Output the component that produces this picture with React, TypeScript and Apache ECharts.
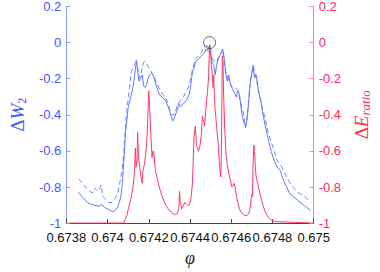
import React, { useEffect, useRef } from "react";
import * as echarts from "echarts";

const xTicks = { min: 0.6738, max: 0.675, step: 0.0002 };
const yTicks = { min: -1, max: 0.2, step: 0.2 };

const phiSolid = [
  0.673859, 0.673881, 0.673903, 0.673932, 0.673962, 0.673969, 0.673984, 0.674006, 0.674021, 0.674035,
  0.67405, 0.674057, 0.674065, 0.674072, 0.674076, 0.674082, 0.674087, 0.674094, 0.674101, 0.674109,
  0.674116, 0.674124, 0.674131, 0.674135, 0.674141, 0.674146, 0.674153, 0.67416, 0.674168, 0.674175,
  0.674182, 0.67419, 0.674197, 0.674204, 0.674212, 0.674221, 0.674235, 0.67425, 0.674265, 0.67428,
  0.674294, 0.674309, 0.674316, 0.674324, 0.674338, 0.674346, 0.674353, 0.674368, 0.674382, 0.674397,
  0.674404, 0.674412, 0.674419, 0.674426, 0.674441, 0.674456, 0.674471, 0.674478, 0.674485, 0.674493,
  0.6745, 0.674507, 0.674515, 0.674522, 0.674529, 0.674537, 0.674544, 0.674552, 0.674559, 0.674566,
  0.674574, 0.674581, 0.674588, 0.674596, 0.674603, 0.674618, 0.674625, 0.674632, 0.67464, 0.674647,
  0.674654, 0.674662, 0.674669, 0.674677, 0.674684, 0.674691, 0.674699, 0.674706, 0.674713, 0.674721,
  0.674728, 0.674735, 0.674743, 0.67475, 0.674765, 0.674779, 0.674794, 0.674809, 0.674824, 0.674838,
  0.674853, 0.674868, 0.674882, 0.674897, 0.674926, 0.674956, 0.674985,
];
const w2Solid = [
  -0.829, -0.859, -0.886, -0.9, -0.907, -0.895, -0.912, -0.925, -0.935, -0.932,
  -0.912, -0.886, -0.851, -0.78, -0.709, -0.603, -0.497, -0.426, -0.355, -0.32,
  -0.285, -0.24, -0.187, -0.143, -0.108, -0.161, -0.214, -0.196, -0.179, -0.24,
  -0.249, -0.232, -0.196, -0.179, -0.17, -0.179, -0.232, -0.285, -0.302, -0.32,
  -0.355, -0.408, -0.435, -0.417, -0.373, -0.338, -0.355, -0.338, -0.32, -0.285,
  -0.232, -0.161, -0.143, -0.108, -0.09, -0.073, -0.055, -0.037, -0.046, -0.019,
  -0.055, -0.108, -0.126, -0.179, -0.126, -0.09, -0.073, -0.055, -0.037, -0.09,
  -0.179, -0.214, -0.179, -0.232, -0.25, -0.285, -0.302, -0.267, -0.285, -0.355,
  -0.408, -0.444, -0.47, -0.426, -0.338, -0.232, -0.179, -0.126, -0.196, -0.179,
  -0.232, -0.285, -0.32, -0.373, -0.462, -0.532, -0.603, -0.656, -0.691, -0.709,
  -0.762, -0.798, -0.833, -0.851, -0.877, -0.904, -0.93,
];

const phiDashed = [
  0.673859, 0.673881, 0.673903, 0.673925, 0.67394, 0.673947, 0.673954, 0.673969, 0.673976, 0.673991,
  0.674006, 0.674021, 0.674035, 0.67405, 0.674065, 0.674072, 0.674079, 0.674087, 0.674094, 0.674101,
  0.674109, 0.674116, 0.674124, 0.674131, 0.674138, 0.674146, 0.674153, 0.67416, 0.674168, 0.674175,
  0.674182, 0.67419, 0.674197, 0.674212, 0.674235, 0.67425, 0.674265, 0.67428, 0.674294, 0.674309,
  0.674324, 0.674338, 0.674353, 0.674368, 0.674382, 0.674397, 0.674412, 0.674426, 0.674441, 0.674456,
  0.674471, 0.674485, 0.6745, 0.674515, 0.674529, 0.674544, 0.674552, 0.674559, 0.674574, 0.674588,
  0.674603, 0.674618, 0.674632, 0.674647, 0.674662, 0.674669, 0.674677, 0.674691, 0.674706, 0.674721,
  0.674735, 0.67475, 0.674765, 0.674779, 0.674794, 0.674809, 0.674824, 0.674838, 0.674853, 0.674868,
  0.674897, 0.674926, 0.674956, 0.674985,
];
const w2Dashed = [
  -0.755, -0.78, -0.815, -0.833, -0.806, -0.815, -0.824, -0.789, -0.851, -0.868,
  -0.886, -0.886, -0.868, -0.833, -0.744, -0.691, -0.603, -0.462, -0.373, -0.302,
  -0.232, -0.161, -0.134, -0.126, -0.09, -0.134, -0.196, -0.179, -0.143, -0.108,
  -0.104, -0.117, -0.134, -0.161, -0.214, -0.25, -0.285, -0.3, -0.338, -0.4,
  -0.4, -0.35, -0.32, -0.3, -0.27, -0.232, -0.15, -0.09, -0.073, -0.055,
  -0.019, -0.019, -0.073, -0.1, -0.108, -0.07, -0.055, -0.037, -0.161, -0.214,
  -0.245, -0.249, -0.267, -0.338, -0.408, -0.47, -0.408, -0.232, -0.126, -0.196,
  -0.285, -0.355, -0.426, -0.497, -0.55, -0.603, -0.656, -0.674, -0.709, -0.744,
  -0.798, -0.833, -0.851, -0.886,
];

const phiE = [
  0.67381, 0.674079, 0.674087, 0.674094, 0.674101, 0.674109, 0.674116, 0.674124, 0.674131, 0.674135,
  0.674138, 0.674143, 0.674146, 0.67415, 0.674156, 0.674162, 0.674168, 0.674172, 0.674179, 0.674185,
  0.67419, 0.674194, 0.674197, 0.6742, 0.674204, 0.674209, 0.674212, 0.674216, 0.674219, 0.674224,
  0.674232, 0.674243, 0.67425, 0.674265, 0.67428, 0.674294, 0.674309, 0.674324, 0.674338, 0.674346,
  0.674349, 0.674353, 0.67436, 0.674368, 0.674375, 0.674382, 0.67439, 0.674397, 0.674404, 0.674412,
  0.674419, 0.674424, 0.674426, 0.674431, 0.674437, 0.674441, 0.674449, 0.674456, 0.67446, 0.674465,
  0.674471, 0.674478, 0.674485, 0.67449, 0.674493, 0.674496, 0.674499, 0.674503, 0.674507, 0.674512,
  0.674515, 0.674518, 0.674522, 0.674529, 0.674537, 0.674544, 0.674549, 0.674552, 0.674555, 0.674557,
  0.67456, 0.674563, 0.674568, 0.674574, 0.674581, 0.674588, 0.674596, 0.674603, 0.67461, 0.674615,
  0.674621, 0.674625, 0.674632, 0.67464, 0.674647, 0.674662, 0.674677, 0.674684, 0.674691, 0.674699,
  0.674703, 0.674706, 0.67471, 0.674713, 0.674718, 0.674721, 0.674728, 0.674732, 0.674735, 0.67475,
  0.674765, 0.674779, 0.674794, 0.674809, 0.674824, 0.675,
];
const eRatio = [
  -1, -1, -0.974, -0.957, -0.921, -0.886, -0.851, -0.798, -0.709, -0.585,
  -0.691, -0.654, -0.497, -0.638, -0.691, -0.744, -0.78, -0.709, -0.674, -0.621,
  -0.55, -0.462, -0.355, -0.267, -0.355, -0.479, -0.55, -0.638, -0.603, -0.603,
  -0.709, -0.762, -0.798, -0.851, -0.895, -0.921, -0.939, -0.953, -0.948, -0.921,
  -0.824, -0.886, -0.921, -0.904, -0.886, -0.895, -0.904, -0.895, -0.868, -0.78,
  -0.532, -0.479, -0.462, -0.568, -0.585, -0.603, -0.568, -0.497, -0.408, -0.426,
  -0.462, -0.355, -0.267, -0.196, -0.073, -0.011, -0.037, -0.126, -0.161, -0.249,
  -0.179, -0.285, -0.373, -0.462, -0.568, -0.691, -0.744, -0.638, -0.285, -0.073,
  -0.108, -0.285, -0.462, -0.603, -0.674, -0.727, -0.762, -0.8, -0.789, -0.78,
  -0.815, -0.851, -0.886, -0.921, -0.939, -0.957, -0.957, -0.948, -0.921, -0.842,
  -0.851, -0.674, -0.568, -0.603, -0.709, -0.744, -0.78, -0.798, -0.815, -0.886,
  -0.939, -0.966, -0.983, -0.989, -0.992, -1,
];

const circleMark = [0.674495, 0];

const BLUE = "#4058ff";
const BLUE_LINE = "#6478ff";
const RED = "#ff2a55";
const RED_LINE = "#ff3a66";

const pairs = (xs: number[], ys: number[]) => xs.map((x, i) => [x, ys[i]]);

export default function App() {
  const ref = useRef<HTMLDivElement>(null);
  useEffect(() => {
    if (!ref.current) return;
    const chart = echarts.init(ref.current, undefined, { renderer: "svg" });
    const sans = "Liberation Sans";
    const serif = "Liberation Serif";
    chart.setOption({
      animation: false,
      backgroundColor: "#ffffff",
      grid: { left: 53, right: 55, top: 6, bottom: 41 },
      xAxis: {
        type: "value",
        min: xTicks.min,
        max: xTicks.max,
        interval: xTicks.step,
        axisLine: { show: true, onZero: false, lineStyle: { color: "#444", width: 1 } },
        axisTick: { show: true, inside: true, length: 4, lineStyle: { color: "#444" } },
        axisLabel: {
          color: "#111",
          fontSize: 13,
          fontFamily: sans,
          margin: 8,
          formatter: (v: number) => String(parseFloat(v.toFixed(4))),
        },
        splitLine: { show: false },
        name: "φ",
        nameLocation: "middle",
        nameGap: 24,
        nameTextStyle: { fontFamily: serif, fontStyle: "italic", fontSize: 18, color: "#222" },
      },
      yAxis: [
        {
          type: "value",
          position: "left",
          min: yTicks.min,
          max: yTicks.max,
          interval: yTicks.step,
          axisLine: { show: true, onZero: false, lineStyle: { color: "#8c9cff", width: 1 } },
          axisTick: { show: true, inside: true, length: 4, lineStyle: { color: "#8c9cff" } },
          axisLabel: { color: BLUE, fontSize: 13, fontFamily: sans, margin: 5 },
          splitLine: { show: false },
          name: "{d|Δ}{w|W}{s|2}",
          nameLocation: "middle",
          nameRotate: 90,
          nameGap: 34,
          nameTextStyle: {
            color: BLUE,
            rich: {
              d: { fontFamily: serif, fontSize: 19, color: BLUE, lineHeight: 20, verticalAlign: "top" },
              w: { fontFamily: serif, fontStyle: "italic", fontSize: 19, color: BLUE, lineHeight: 20, verticalAlign: "top" },
              s: { fontFamily: serif, fontSize: 12, color: BLUE, lineHeight: 6, verticalAlign: "bottom" },
            },
          },
        },
        {
          type: "value",
          position: "right",
          min: yTicks.min,
          max: yTicks.max,
          interval: yTicks.step,
          axisLine: { show: true, onZero: false, lineStyle: { color: "#ff8099", width: 1 } },
          axisTick: { show: true, inside: true, length: 4, lineStyle: { color: "#ff8099" } },
          axisLabel: { color: RED, fontSize: 13, fontFamily: sans, margin: 5 },
          splitLine: { show: false },
          name: "{d|Δ}{w|E}{s|ratio}",
          nameLocation: "middle",
          nameRotate: 90,
          nameGap: 36,
          nameTextStyle: {
            color: RED,
            rich: {
              d: { fontFamily: serif, fontSize: 19, color: RED, lineHeight: 20, verticalAlign: "top" },
              w: { fontFamily: serif, fontStyle: "italic", fontSize: 19, color: RED, lineHeight: 20, verticalAlign: "top" },
              s: { fontFamily: serif, fontStyle: "italic", fontSize: 13, color: RED, lineHeight: 6, verticalAlign: "bottom" },
            },
          },
        },
      ],
      series: [
        {
          name: "ΔW2",
          type: "line",
          yAxisIndex: 0,
          symbol: "none",
          data: pairs(phiSolid, w2Solid),
          lineStyle: { color: BLUE_LINE, width: 1 },
          z: 2,
        },
        {
          name: "ΔW2 dashed",
          type: "line",
          yAxisIndex: 0,
          symbol: "none",
          data: pairs(phiDashed, w2Dashed),
          lineStyle: { color: BLUE_LINE, width: 1, type: [5, 3], opacity: 0.9 },
          z: 2,
        },
        {
          name: "ΔEratio",
          type: "line",
          yAxisIndex: 1,
          symbol: "none",
          data: pairs(phiE, eRatio),
          lineStyle: { color: RED_LINE, width: 1 },
          z: 3,
        },
        {
          name: "mark",
          type: "scatter",
          yAxisIndex: 1,
          symbol: "circle",
          symbolSize: 12,
          data: [circleMark],
          itemStyle: { color: "rgba(0,0,0,0)", borderColor: "#444", borderWidth: 1 },
          z: 5,
        },
      ],
    });
    return () => chart.dispose();
  }, []);
  return (
    <div
      ref={ref}
      style={{ position: "fixed", left: 0, top: 0, width: 380, height: 272, background: "#fff" }}
    />
  );
}
